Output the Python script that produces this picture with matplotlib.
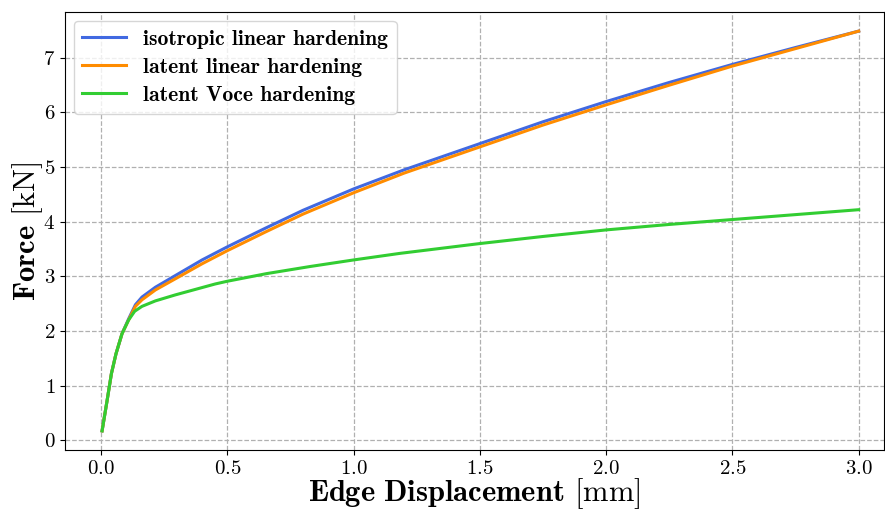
import matplotlib
matplotlib.use('Agg')
import matplotlib.pyplot as plt
import numpy as np

plt.rcParams['font.family'] = 'cmr10'
plt.rcParams['mathtext.fontset'] = 'cm'
plt.rcParams['axes.formatter.use_mathtext'] = True

# Edge displacement [mm] and force [kN] for the three hardening models
disp_iso = [0.004, 0.024, 0.041, 0.059, 0.083, 0.109, 0.136, 0.162, 0.215, 0.3, 0.4, 0.5,
            0.65, 0.8, 1.0, 1.2, 1.5, 1.75, 2.0, 2.25, 2.5, 2.75, 3.0]
force_iso = [0.17, 0.73, 1.22, 1.58, 1.95, 2.22, 2.48, 2.62, 2.80, 3.03, 3.30, 3.54,
             3.88, 4.21, 4.60, 4.95, 5.43, 5.83, 6.20, 6.55, 6.88, 7.19, 7.49]

disp_lat = [0.004, 0.024, 0.041, 0.059, 0.083, 0.109, 0.136, 0.162, 0.215, 0.3, 0.4, 0.5,
            0.65, 0.8, 1.0, 1.2, 1.5, 1.75, 2.0, 2.25, 2.5, 2.75, 3.0]
force_lat = [0.17, 0.73, 1.22, 1.58, 1.95, 2.20, 2.45, 2.57, 2.75, 2.97, 3.23, 3.47,
             3.81, 4.14, 4.53, 4.89, 5.37, 5.77, 6.14, 6.50, 6.85, 7.17, 7.49]

disp_voce = [0.004, 0.024, 0.041, 0.059, 0.083, 0.109, 0.133, 0.162, 0.215, 0.294, 0.373, 0.452,
             0.5, 0.656, 0.828, 1.0, 1.183, 1.5, 1.75, 2.0, 2.25, 2.5, 2.75, 3.0]
force_voce = [0.17, 0.73, 1.22, 1.58, 1.95, 2.20, 2.36, 2.45, 2.55, 2.66, 2.76, 2.86,
              2.91, 3.05, 3.18, 3.30, 3.42, 3.60, 3.73, 3.85, 3.95, 4.04, 4.13, 4.22]

fig = plt.figure(figsize=(8.85, 5.11), dpi=100)
ax = fig.add_axes([0.0734, 0.1194, 0.9254, 0.8571])

ax.plot(disp_iso, force_iso, color='royalblue', lw=2.2, label='isotropic linear hardening')
ax.plot(disp_lat, force_lat, color='darkorange', lw=2.2, label='latent linear hardening')
ax.plot(disp_voce, force_voce, color='limegreen', lw=2.2, label='latent Voce hardening')

ax.set_xlim(-0.143, 3.10)
ax.set_ylim(-0.18, 7.84)
ax.set_xticks(np.arange(0, 3.01, 0.5))
ax.set_yticks(range(0, 8))
ax.tick_params(labelsize=15)
ax.grid(True, linestyle='--', color='#b0b0b0', lw=0.9)

ax.set_xlabel(r'$\mathbf{Edge\ Displacement}$ [mm]', fontsize=22, labelpad=-1)
ax.set_ylabel(r'$\mathbf{Force}$ [kN]', fontsize=22, labelpad=-1)

ax.legend(loc='upper left', prop={'family': 'cmb10', 'size': 15.6},
          borderaxespad=0.4, labelspacing=0.42)

fig.savefig('out.png', dpi=100)
